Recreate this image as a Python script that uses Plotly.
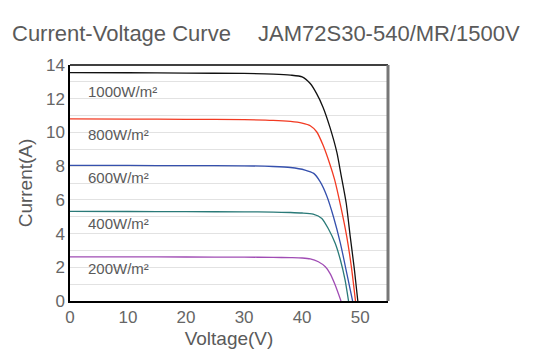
import plotly.graph_objects as go

# Data
v_1000 = [0, 10, 20, 30, 35, 38, 40, 41.4, 42.5, 43.6, 44.8, 46.0, 46.7, 47.6, 48.3, 49.0, 49.6]
i_1000 = [13.55, 13.54, 13.52, 13.5, 13.46, 13.4, 13.3, 12.9, 12.3, 11.5, 10.3, 8.8, 7.5, 5.8, 3.8, 1.9, 0]

v_800 = [0, 10, 20, 30, 35, 38, 40, 41.4, 42.5, 43.6, 44.8, 45.6, 46.6, 47.7, 48.5, 49.2]
i_800 = [10.8, 10.79, 10.78, 10.76, 10.72, 10.65, 10.55, 10.4, 10.04, 9.25, 8.1, 7.2, 5.7, 3.8, 2.0, 0]

v_600 = [0, 10, 20, 30, 35, 38, 40.5, 42.0, 43.1, 44.3, 45.4, 46.6, 47.7, 48.7]
i_600 = [8.05, 8.04, 8.03, 8.02, 7.98, 7.92, 7.77, 7.57, 7.08, 6.19, 5.0, 3.42, 1.64, 0]

v_400 = [0, 10, 20, 30, 35, 38, 40, 41.9, 43.4, 44.5, 45.7, 46.6, 47.4, 48.0]
i_400 = [5.32, 5.31, 5.3, 5.29, 5.27, 5.25, 5.22, 5.15, 4.9, 4.3, 3.42, 2.43, 1.25, 0]

v_200 = [0, 10, 20, 30, 35, 38, 40, 41.4, 42.8, 44.0, 44.8, 45.7, 46.7]
i_200 = [2.62, 2.62, 2.61, 2.6, 2.59, 2.57, 2.55, 2.5, 2.33, 2.03, 1.64, 0.95, 0]

labels = ["1000W/m²", "800W/m²", "600W/m²", "400W/m²", "200W/m²"]
label_y = [12.45, 9.85, 7.3, 4.6, 1.95]
colors = ["#111111", "#f23a22", "#3550ad", "#2a7a78", "#a04cb4"]

series = [(v_1000, i_1000), (v_800, i_800), (v_600, i_600), (v_400, i_400), (v_200, i_200)]

FONT = "Arial, Liberation Sans, sans-serif"
GRAY = "#5a5a5a"

fig = go.Figure()
for (v, i), c, name in zip(series, colors, labels):
    fig.add_trace(go.Scatter(x=v, y=i, mode="lines", line=dict(color=c, width=1.3, shape="spline", smoothing=0.6),
                             name=name, showlegend=False, hoverinfo="skip"))

for lab, y in zip(labels, label_y):
    fig.add_annotation(x=2.7, y=y, text=lab, showarrow=False, xanchor="left", yanchor="middle",
                       font=dict(family=FONT, size=15, color=GRAY))

fig.add_annotation(xref="paper", yref="paper", x=0, xshift=-60, y=1.0, yshift=32, text="Current-Voltage Curve",
                   showarrow=False, xanchor="left", yanchor="middle", font=dict(family=FONT, size=22, color=GRAY))
fig.add_annotation(xref="paper", yref="paper", x=0, xshift=186, y=1.0, yshift=32, text="JAM72S30-540/MR/1500V",
                   showarrow=False, xanchor="left", yanchor="middle", font=dict(family=FONT, size=22, color=GRAY))

# frame: black top, gray thick right
fig.add_shape(type="line", xref="paper", yref="paper", x0=0, x1=1, y0=1, y1=1, line=dict(color="black", width=1.5))
fig.add_shape(type="line", xref="paper", yref="paper", x0=1, x1=1, y0=0, y1=1, line=dict(color="#777777", width=3))

fig.update_layout(
    width=534, height=361, autosize=False,
    margin=dict(l=62, r=154, t=57, b=68),
    paper_bgcolor="white", plot_bgcolor="white",
    font=dict(family=FONT, color=GRAY),
    xaxis=dict(range=[0, 54.8], tickvals=[0, 10, 20, 30, 40, 50], showgrid=False, zeroline=False,
               showline=True, linecolor="black", linewidth=1.5, automargin=False,
               tickfont=dict(size=17, color="#666666"), ticks="",
               title=dict(text="Voltage(V)", font=dict(size=19, color=GRAY), standoff=6)),
    yaxis=dict(range=[0, 14], tickvals=[0, 2, 4, 6, 8, 10, 12, 14], showgrid=True, gridcolor="#e2e2e2",
               minor=dict(dtick=1, showgrid=True, gridcolor="#e2e2e2"),
               zeroline=False, showline=True, linecolor="black", linewidth=1.5, automargin=False,
               tickfont=dict(size=17, color="#666666"), ticks="",
               title=dict(text="Current(A)", font=dict(size=19, color=GRAY), standoff=8)),
)

fig.write_html("out.html")
